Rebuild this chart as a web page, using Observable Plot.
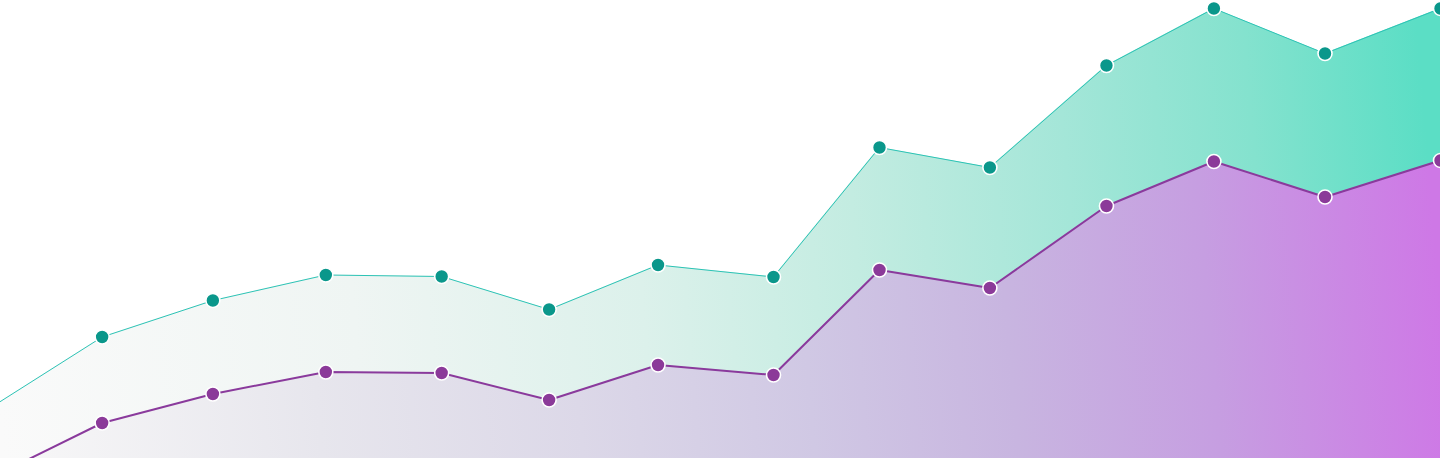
<!DOCTYPE html>
<html>
<head>
<meta charset="utf-8">
<script src="https://cdn.jsdelivr.net/npm/d3@7"></script>
<script src="https://cdn.jsdelivr.net/npm/@observablehq/plot@0.6"></script>
<style>
  html, body { margin: 0; padding: 0; background: #ffffff; overflow: hidden; }
  #chart svg { display: block; overflow: hidden; }
</style>
</head>
<body>
<div id="chart"></div>
<script>
// x positions (days from first sample)
const days = [0, 30, 60.3, 91.2, 122.9, 152.3, 182.1, 213.7, 242.7, 272.9, 304.8, 334.2, 364.6, 396.2];
// upper (teal) series
const tealValues = [18.8, 32.7, 40.0, 45.1, 44.8, 38.2, 47.1, 44.7, 70.6, 66.6, 87.0, 98.4, 89.4, 98.4];
// lower (purple) series
const purpleValues = [4.7, 15.5, 21.3, 25.7, 25.5, 20.1, 27.1, 25.1, 46.1, 42.5, 58.9, 67.8, 60.7, 68.0];

const teal = days.map((d, i) => ({x: d, y: tealValues[i]}));
const purple = days.map((d, i) => ({x: d, y: purpleValues[i]}));

const W = 1440, H = 458;

const chart = Plot.plot({
  width: W,
  height: H,
  margin: 0,
  x: {domain: [days[0], days[days.length - 1]], range: [-8, 1440], axis: null},
  y: {domain: [0, 100], range: [500, 0], axis: null},
  marks: [
    Plot.areaY(teal, {x: "x", y: "y", fill: "url(#gradTeal)"}),
    Plot.areaY(purple, {x: "x", y: "y", fill: "url(#gradPurple)"}),
    Plot.lineY(teal, {x: "x", y: "y", stroke: "#2cc3b5", strokeWidth: 1}),
    Plot.lineY(purple, {x: "x", y: "y", stroke: "#8a3a9c", strokeWidth: 2}),
    Plot.dot(teal, {x: "x", y: "y", r: 7, fill: "#0a978b", stroke: "#ffffff", strokeWidth: 1.6}),
    Plot.dot(purple, {x: "x", y: "y", r: 7, fill: "#8b3a99", stroke: "#ffffff", strokeWidth: 1.6})
  ]
});

const svg = d3.select(chart);
const defs = svg.insert("defs", ":first-child");

function addGrad(id, stops) {
  const g = defs.append("linearGradient")
    .attr("id", id)
    .attr("gradientUnits", "userSpaceOnUse")
    .attr("x1", 0).attr("y1", 420)
    .attr("x2", W).attr("y2", 300);
  stops.forEach(([o, c]) => g.append("stop").attr("offset", o).attr("stop-color", c));
}

addGrad("gradTeal", [
  [0, "#fafafa"],
  [0.25, "#eff5f3"],
  [0.45, "#dcf1eb"],
  [0.6, "#c3ece1"],
  [0.75, "#a4e6d8"],
  [0.88, "#84e2ce"],
  [1, "#5bdec5"]
]);
addGrad("gradPurple", [
  [0, "#f8f8f8"],
  [0.22, "#e7e6ed"],
  [0.4, "#dcd8e8"],
  [0.56, "#d0c8e4"],
  [0.7, "#c8b5e0"],
  [0.84, "#c69ee1"],
  [1, "#ce78e6"]
]);

document.getElementById("chart").appendChild(chart);
</script>
</body>
</html>
